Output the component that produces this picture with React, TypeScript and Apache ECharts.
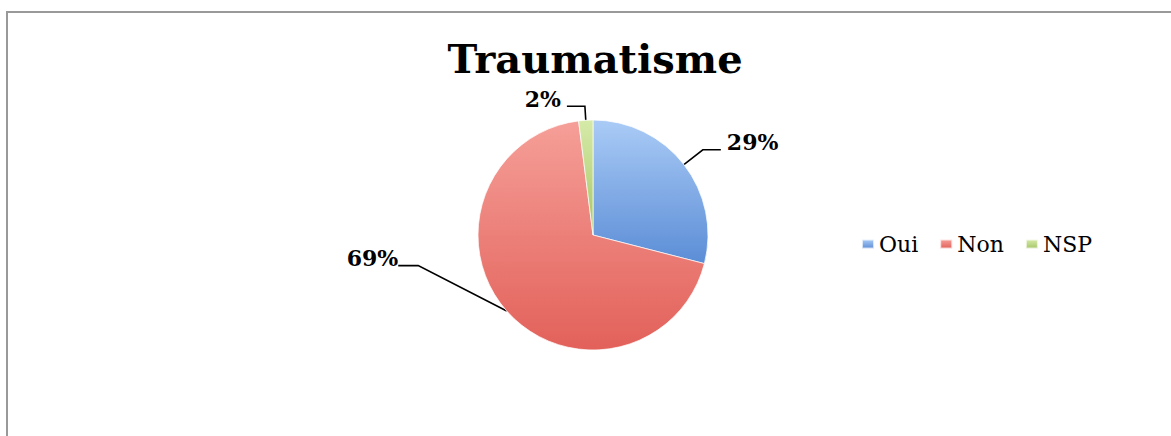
import React, { useEffect, useRef } from "react";
import * as echarts from "echarts";

const titleText = "Traumatisme";
const categories = ["Oui", "Non", "NSP"];
const values = [29, 69, 2];

const sliceColors = [
  ["#aacbf6", "#5b8dd6"],
  ["#f59f98", "#e2615a"],
  ["#d6eaa9", "#a6c667"],
];
const leaderLines = [
  { length: 24, length2: 18 },
  { length: 78, length2: 20 },
  { length: 14, length2: 18 },
];
const labelShift = [
  null,
  { dx: -24, dy: -97 },
  null,
];

export default function App() {
  const ref = useRef<HTMLDivElement>(null);
  useEffect(() => {
    if (!ref.current) return;
    const chart = echarts.init(ref.current, null, { renderer: "svg" });
    const serif = "DejaVu Serif";
    chart.setOption({
      animation: false,
      backgroundColor: "#ffffff",
      title: {
        text: titleText,
        left: 590,
        textAlign: "center",
        top: 33,
        textStyle: { fontFamily: serif, fontWeight: "bold", fontSize: 40, color: "#000" },
      },
      legend: {
        data: categories,
        orient: "horizontal",
        left: 856,
        top: 228,
        icon: "rect",
        itemWidth: 12,
        itemHeight: 9,
        itemGap: 21,
        textStyle: { fontFamily: serif, fontSize: 22, color: "#000", padding: [0, 0, 0, 0] },
      },
      graphic: [
        {
          type: "rect",
          shape: { x: 7, y: 12, width: 1200, height: 500 },
          style: { fill: "none", stroke: "#999999", lineWidth: 2 },
          silent: true,
        },
      ],
      series: [
        {
          type: "pie",
          center: [593, 235],
          radius: 115,
          startAngle: 90,
          clockwise: true,
          avoidLabelOverlap: false,
          label: {
            show: true,
            position: "outside",
            formatter: (p: any) => p.value + "%\n",
            fontFamily: serif,
            fontWeight: "bold",
            fontSize: 22,
            lineHeight: 15,
            color: "#000",
            distanceToLabelLine: 6,
          },
          labelLine: { show: true, lineStyle: { color: "#000", width: 1.6 } },
          labelLayout: (params: any) => {
            const s = labelShift[params.dataIndex];
            if (!s) return {};
            const r = params.labelRect;
            return {
              x: r.x + r.width + s.dx,
              y: r.y + r.height / 2 + s.dy,
            };
          },
          itemStyle: { borderColor: "rgba(255,255,255,0.7)", borderWidth: 1 },
          data: categories.map((name, i) => ({
            name,
            value: values[i],
            labelLine: leaderLines[i],
            itemStyle: {
              color: new echarts.graphic.LinearGradient(0, 0, 0, 1, [
                { offset: 0, color: sliceColors[i][0] },
                { offset: 1, color: sliceColors[i][1] },
              ]),
            },
          })),
        },
      ],
    });
    return () => chart.dispose();
  }, []);
  return (
    <div
      ref={ref}
      style={{ position: "fixed", left: 0, top: 0, width: 1171, height: 436 }}
    />
  );
}
